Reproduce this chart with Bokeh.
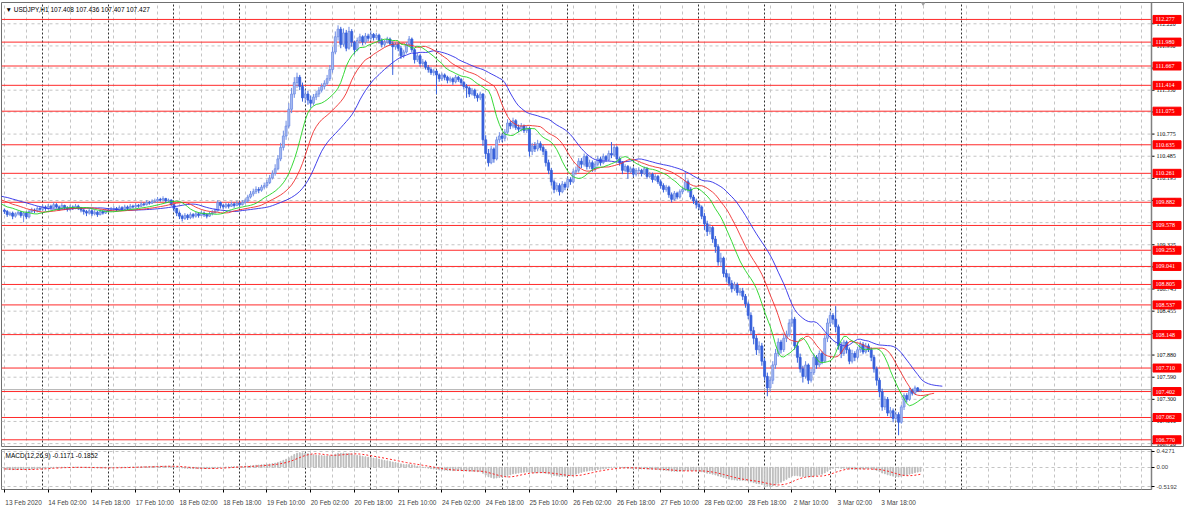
import numpy as np
from bokeh.plotting import figure
from bokeh.models import Range1d, FixedTicker, Grid, Span, Label
from bokeh.layouts import column
from bokeh.embed import file_html
from bokeh.resources import INLINE

symbol_title = "\u25bc USDJPY,H1  107.408 107.436 107.407 107.427"
macd_title = "MACD(12,26,9) -0.1171 -0.1852"

# bars before the first visible one (13 Feb 10:00), estimated from indicator levels at the left edge
pre_closes = [109.98, 110.01, 109.99, 110.02, 110.00, 109.97, 109.99, 110.03, 110.01, 109.98,
              110.00, 110.02, 109.99, 109.97, 110.00, 110.01, 109.98, 109.96, 109.99, 110.00,
              109.97, 109.95, 109.98, 110.00, 109.96, 109.94, 109.97, 109.95, 109.92, 109.90,
              109.93, 109.88, 109.85, 109.86, 109.82, 109.79, 109.81, 109.77, 109.75, 109.78]

# H1 bars from 13 Feb 2020 10:00 to 4 Mar 2020 09:00
closes = [
    109.76, 109.72, 109.74, 109.70, 109.73, 109.75, 109.71, 109.74,
    109.69, 109.76, 109.78, 109.77, 109.80, 109.79, 109.82, 109.80,
    109.83, 109.81, 109.85, 109.82, 109.80, 109.84, 109.81, 109.79,
    109.82, 109.80, 109.83, 109.81, 109.78, 109.76, 109.74, 109.77,
    109.73, 109.75, 109.72, 109.76, 109.74, 109.78, 109.77, 109.79,
    109.80, 109.78, 109.81, 109.79, 109.82, 109.80, 109.83, 109.82,
    109.84, 109.83, 109.86, 109.85, 109.88, 109.87, 109.89, 109.90,
    109.92, 109.91, 109.93, 109.90, 109.91, 109.85, 109.80, 109.74,
    109.70, 109.67, 109.71, 109.68, 109.72, 109.70, 109.73, 109.71,
    109.74, 109.72, 109.70, 109.73, 109.75, 109.77, 109.88, 109.84,
    109.82, 109.85, 109.83, 109.86, 109.84, 109.87, 109.85, 109.88,
    109.90, 109.95, 109.99, 110.02, 110.05, 110.04, 110.08, 110.10,
    110.14, 110.20, 110.26, 110.32, 110.45, 110.60, 110.75, 110.88,
    111.10, 111.30, 111.45, 111.52, 111.40, 111.25, 111.30, 111.22,
    111.18, 111.26, 111.30, 111.35, 111.40, 111.44, 111.50, 111.62,
    111.85, 112.05, 112.15, 111.95, 112.10, 111.90, 112.12, 111.98,
    111.88, 112.00, 112.05, 111.98, 112.06, 112.03, 112.08, 112.04,
    112.07, 112.00, 111.95, 111.98, 112.02, 111.96, 111.92, 111.95,
    111.90, 111.80, 111.85, 111.95, 112.02, 111.88, 111.75, 111.80,
    111.70, 111.72, 111.65, 111.62, 111.58, 111.60, 111.55, 111.50,
    111.55, 111.52, 111.48, 111.50, 111.46, 111.52, 111.49, 111.45,
    111.40, 111.38, 111.30, 111.35, 111.28, 111.25, 111.30, 110.70,
    110.52, 110.40, 110.58, 110.45, 110.70, 110.75, 110.72, 110.80,
    110.92, 110.88, 110.95, 110.86, 110.84, 110.88, 110.82, 110.85,
    110.55, 110.62, 110.58, 110.65, 110.60, 110.55, 110.40, 110.30,
    110.15, 110.05, 110.10, 110.02, 110.12, 110.08, 110.18, 110.15,
    110.28, 110.30, 110.42, 110.38, 110.48, 110.35, 110.40, 110.32,
    110.38, 110.45, 110.40, 110.48, 110.44, 110.52, 110.50, 110.60,
    110.45, 110.40, 110.30, 110.35, 110.28, 110.32, 110.25, 110.30,
    110.30, 110.26, 110.32, 110.22, 110.25, 110.18, 110.22, 110.15,
    110.10, 110.05, 110.08, 109.98, 109.92, 110.00, 109.95, 110.02,
    110.05, 110.15, 110.05, 109.95, 109.90, 109.85, 109.82, 109.70,
    109.60, 109.50, 109.55, 109.40, 109.30, 109.10, 109.15, 108.95,
    108.90, 108.82, 108.75, 108.80, 108.70, 108.72, 108.65, 108.55,
    108.40, 108.20, 108.10, 107.95, 108.00, 107.80, 107.60, 107.45,
    107.55, 107.75, 107.90, 108.05, 107.95, 108.10, 108.15, 108.30,
    108.35, 108.00, 107.85, 107.70, 107.60, 107.75, 107.55, 107.65,
    107.85, 107.75, 107.90, 107.80, 108.10, 108.30, 108.40, 108.35,
    108.25, 108.00, 107.90, 108.05, 107.95, 107.80, 107.90, 107.85,
    107.95, 108.02, 107.92, 108.00, 107.95, 107.85, 107.70, 107.55,
    107.40, 107.20, 107.30, 107.12, 107.15, 107.05, 107.10, 107.00,
    107.20, 107.35, 107.30, 107.42, 107.38, 107.45, 107.408, 107.427,
]
highs = [
    109.80, 109.78, 109.76, 109.76, 109.75, 109.77, 109.77, 109.76,
    109.76, 109.78, 109.81, 109.80, 109.83, 109.82, 109.85, 109.84,
    109.86, 109.85, 109.88, 109.87, 109.84, 109.87, 109.85, 109.83,
    109.85, 109.84, 109.86, 109.85, 109.82, 109.80, 109.78, 109.80,
    109.79, 109.78, 109.77, 109.79, 109.78, 109.80, 109.80, 109.82,
    109.83, 109.82, 109.84, 109.83, 109.85, 109.84, 109.86, 109.85,
    109.87, 109.86, 109.89, 109.88, 109.91, 109.90, 109.92, 109.93,
    109.95, 109.94, 109.96, 109.94, 109.93, 109.92, 109.87, 109.81,
    109.76, 109.72, 109.74, 109.73, 109.75, 109.74, 109.76, 109.75,
    109.77, 109.76, 109.74, 109.76, 109.78, 109.80, 109.91, 109.89,
    109.86, 109.88, 109.87, 109.89, 109.88, 109.90, 109.89, 109.91,
    109.93, 109.98, 110.03, 110.06, 110.09, 110.08, 110.11, 110.14,
    110.18, 110.24, 110.30, 110.38, 110.50, 110.66, 110.82, 110.95,
    111.18, 111.38, 111.52, 111.58, 111.55, 111.45, 111.36, 111.34,
    111.28, 111.30, 111.34, 111.39, 111.44, 111.48, 111.55, 111.68,
    111.92, 112.12, 112.20, 112.18, 112.16, 112.14, 112.18, 112.15,
    112.00, 112.04, 112.09, 112.07, 112.10, 112.09, 112.13, 112.10,
    112.10, 112.09, 112.03, 112.01, 112.05, 112.04, 111.99, 111.98,
    111.98, 111.93, 111.88, 111.98, 112.06, 112.04, 111.90, 111.84,
    111.82, 111.76, 111.74, 111.68, 111.65, 111.63, 111.62, 111.57,
    111.58, 111.57, 111.54, 111.53, 111.52, 111.55, 111.54, 111.51,
    111.47, 111.43, 111.40, 111.38, 111.37, 111.31, 111.33, 111.31,
    110.76, 110.58, 110.62, 110.60, 110.74, 110.80, 110.78, 110.84,
    110.97, 110.95, 110.99, 110.97, 110.90, 110.92, 110.90, 110.88,
    110.87, 110.66, 110.67, 110.70, 110.68, 110.63, 110.58, 110.44,
    110.33, 110.18, 110.14, 110.13, 110.16, 110.15, 110.22, 110.21,
    110.32, 110.35, 110.46, 110.46, 110.52, 110.50, 110.44, 110.43,
    110.42, 110.49, 110.48, 110.52, 110.50, 110.56, 110.67, 110.64,
    110.62, 110.48, 110.42, 110.38, 110.37, 110.35, 110.34, 110.33,
    110.34, 110.32, 110.35, 110.34, 110.28, 110.27, 110.25, 110.24,
    110.18, 110.13, 110.11, 110.10, 110.01, 110.03, 110.02, 110.05,
    110.08, 110.29, 110.18, 110.08, 109.98, 109.93, 109.88, 109.84,
    109.74, 109.64, 109.60, 109.57, 109.44, 109.33, 109.22, 109.17,
    109.00, 108.95, 108.86, 108.84, 108.83, 108.76, 108.76, 108.68,
    108.58, 108.44, 108.25, 108.14, 108.06, 108.04, 107.84, 107.65,
    107.60, 107.80, 107.96, 108.10, 108.08, 108.15, 108.20, 108.35,
    108.48, 108.38, 108.05, 107.90, 107.74, 107.80, 107.77, 107.70,
    107.90, 107.88, 107.94, 107.93, 108.14, 108.36, 108.45, 108.43,
    108.52, 108.28, 108.05, 108.08, 108.07, 107.98, 107.95, 107.93,
    107.99, 108.06, 108.05, 108.04, 108.03, 107.98, 107.88, 107.73,
    107.58, 107.44, 107.34, 107.33, 107.20, 107.18, 107.14, 107.13,
    107.23, 107.38, 107.38, 107.45, 107.44, 107.48, 107.46, 107.436,
]
lows = [
    109.73, 109.69, 109.70, 109.66, 109.68, 109.71, 109.68, 109.62,
    109.66, 109.67, 109.74, 109.74, 109.75, 109.76, 109.77, 109.77,
    109.78, 109.79, 109.80, 109.80, 109.77, 109.79, 109.78, 109.76,
    109.77, 109.78, 109.79, 109.78, 109.75, 109.72, 109.70, 109.72,
    109.70, 109.71, 109.69, 109.71, 109.72, 109.73, 109.75, 109.76,
    109.77, 109.76, 109.77, 109.77, 109.78, 109.78, 109.79, 109.80,
    109.80, 109.81, 109.82, 109.83, 109.84, 109.85, 109.86, 109.87,
    109.88, 109.89, 109.89, 109.87, 109.88, 109.83, 109.76, 109.70,
    109.66, 109.63, 109.65, 109.65, 109.66, 109.67, 109.68, 109.68,
    109.70, 109.69, 109.67, 109.69, 109.71, 109.73, 109.76, 109.80,
    109.79, 109.80, 109.80, 109.82, 109.81, 109.83, 109.82, 109.84,
    109.86, 109.88, 109.93, 109.96, 109.99, 110.00, 110.02, 110.05,
    110.07, 110.12, 110.18, 110.23, 110.30, 110.42, 110.56, 110.70,
    110.85, 111.05, 111.25, 111.38, 111.35, 111.20, 111.18, 111.16,
    111.12, 111.15, 111.22, 111.26, 111.32, 111.36, 111.41, 111.47,
    111.58, 111.82, 112.00, 111.90, 111.92, 111.86, 111.88, 111.92,
    111.82, 111.86, 111.96, 111.94, 111.95, 111.99, 112.00, 112.00,
    112.01, 111.96, 111.91, 111.92, 111.96, 111.93, 111.55, 111.88,
    111.86, 111.76, 111.77, 111.83, 111.92, 111.85, 111.70, 111.72,
    111.66, 111.66, 111.62, 111.58, 111.55, 111.54, 111.30, 111.46,
    111.47, 111.48, 111.44, 111.45, 111.42, 111.44, 111.46, 111.41,
    111.36, 111.25, 111.26, 111.28, 111.24, 111.20, 111.22, 110.62,
    110.45, 110.35, 110.38, 110.40, 110.43, 110.66, 110.67, 110.68,
    110.78, 110.84, 110.85, 110.83, 110.80, 110.81, 110.79, 110.79,
    110.48, 110.50, 110.54, 110.55, 110.56, 110.50, 110.35, 110.25,
    110.10, 110.00, 110.02, 109.97, 110.00, 110.04, 110.06, 110.11,
    110.13, 110.24, 110.27, 110.33, 110.35, 110.31, 110.32, 110.28,
    110.28, 110.35, 110.36, 110.38, 110.41, 110.42, 110.46, 110.48,
    110.42, 110.36, 110.25, 110.28, 110.19, 110.26, 110.21, 110.22,
    110.25, 110.22, 110.24, 110.19, 110.20, 110.14, 110.16, 110.12,
    110.06, 110.01, 110.02, 109.94, 109.88, 109.90, 109.92, 109.93,
    109.99, 110.03, 110.01, 109.92, 109.86, 109.80, 109.78, 109.66,
    109.52, 109.44, 109.46, 109.35, 109.22, 109.05, 109.04, 108.90,
    108.84, 108.78, 108.70, 108.72, 108.66, 108.66, 108.60, 108.50,
    108.35, 108.15, 108.02, 107.88, 107.90, 107.74, 107.55, 107.34,
    107.40, 107.50, 107.70, 107.86, 107.90, 107.92, 108.05, 108.12,
    108.25, 107.95, 107.78, 107.65, 107.52, 107.57, 107.50, 107.52,
    107.62, 107.70, 107.72, 107.76, 107.78, 108.05, 108.25, 108.28,
    108.18, 107.95, 107.84, 107.87, 107.90, 107.76, 107.77, 107.80,
    107.82, 107.91, 107.89, 107.90, 107.92, 107.80, 107.65, 107.48,
    107.33, 107.15, 107.16, 107.08, 107.06, 107.00, 107.02, 106.83,
    106.98, 107.16, 107.26, 107.28, 107.35, 107.36, 107.40, 107.407,
]

levels = [112.277, 111.980, 111.667, 111.414, 111.075, 110.635, 110.261, 109.882, 109.578,
          109.253, 109.041, 108.805, 108.537, 108.148, 107.710, 107.402, 107.062, 106.770]
price_ticks = [106.720, 107.010, 107.300, 107.590, 107.880, 108.165, 108.455, 108.745, 109.035,
               109.325, 109.615, 109.905, 110.195, 110.485, 110.775, 111.065, 111.350, 111.640,
               111.930, 112.220]
time_labels = ["13 Feb 2020", "14 Feb 02:00", "14 Feb 18:00", "17 Feb 10:00", "18 Feb 02:00",
               "18 Feb 18:00", "19 Feb 10:00", "20 Feb 02:00", "20 Feb 18:00", "21 Feb 10:00",
               "24 Feb 02:00", "24 Feb 18:00", "25 Feb 10:00", "26 Feb 02:00", "26 Feb 18:00",
               "27 Feb 10:00", "28 Feb 02:00", "28 Feb 18:00", "2 Mar 10:00", "3 Mar 02:00",
               "3 Mar 18:00"]
day_start_bars = [14, 38, 62, 86, 110, 134, 158, 182, 206, 230, 254, 278, 302, 326, 350]
macd_ticks = [0.4271, 0, -0.5192]
macd_tick_labels = ["0.4271", "0.00", "-0.5192"]

FONT = "Liberation Sans"
N = len(closes)
P = len(pre_closes)
idx = np.arange(N)
all_idx = np.arange(-P, N)
c = np.array(closes)
o = np.array([pre_closes[-1]] + closes[:-1])
h = np.maximum(np.array(highs), np.maximum(o, c))
l = np.minimum(np.array(lows), np.minimum(o, c))

# indicators (Alligator on median price, MACD on close)
median_all = np.concatenate([np.array(pre_closes), (h + l) / 2.0])
close_all = np.concatenate([np.array(pre_closes), c])


def smma(x, n):
    out = np.full(len(x), np.nan)
    out[n - 1] = x[:n].mean()
    for k in range(n, len(x)):
        out[k] = (out[k - 1] * (n - 1) + x[k]) / n
    return out


def ema(x, n):
    a = 2.0 / (n + 1)
    out = np.empty(len(x))
    out[0] = x[0]
    for k in range(1, len(x)):
        out[k] = a * x[k] + (1 - a) * out[k - 1]
    return out


jaw = smma(median_all, 13)
teeth = smma(median_all, 8)
lips = smma(median_all, 5)
macd = ema(close_all, 12) - ema(close_all, 26)
signal = np.full(len(macd), np.nan)
for k in range(8, len(macd)):
    signal[k] = macd[k - 8:k + 1].mean()

# ---- layout geometry ----
FW = 1150          # chart area width (px)
AXW = 33           # price-scale width (px)
X0, XB = -1.08, 419.5
K = FW / (XB - X0)  # px per bar
XFULL = XB + AXW / K
grid_bars = list(range(0, 420, 8))
label_bars = list(range(0, 16 * len(time_labels), 16))
Y0, Y1 = 106.682, 112.499

p1 = figure(frame_width=FW + AXW, frame_height=444, x_range=Range1d(X0, XFULL),
            y_range=Range1d(Y0, Y1), output_backend="svg", toolbar_location=None,
            x_axis_location=None, y_axis_location=None, min_border_left=1, min_border_right=0,
            min_border_top=2, min_border_bottom=2, outline_line_color="#707070",
            background_fill_color="white", border_fill_color="white")
p1.grid.visible = False
p1.add_layout(Grid(dimension=0, ticker=FixedTicker(ticks=grid_bars), grid_line_color="#c4c4c4",
                   grid_line_dash="3 3", grid_line_width=1))
p1.add_layout(Grid(dimension=0, ticker=FixedTicker(ticks=day_start_bars), grid_line_color="#303030",
                   grid_line_dash="2 2", grid_line_width=1))
# horizontal price grid, stopping at the price scale
p1.segment(x0=[X0] * len(price_ticks), x1=[XB] * len(price_ticks), y0=price_ticks, y1=price_ticks,
           line_color="#c4c4c4", line_dash="3 3", line_width=1)

# horizontal levels
p1.segment(x0=[X0] * len(levels), x1=[XB] * len(levels), y0=levels, y1=levels,
           line_color="#ff2a2a", line_width=1)
p1.segment(x0=[X0], x1=[XB], y0=[closes[-1]], y1=[closes[-1]], line_color="#b0b0b0", line_width=1)

# candles
bull = c >= o
wick_col = np.where(bull, "#6f8de4", "#3660db")
body_fill = np.where(bull, "#a9bcf1", "#3660db")
body_line = np.where(bull, "#6f8de4", "#3660db")
p1.segment(x0=idx, y0=l, x1=idx, y1=h, line_color=list(wick_col), line_width=1)
p1.vbar(x=idx, width=0.72, top=np.maximum(o, c), bottom=np.minimum(o, c),
        fill_color=list(body_fill), line_color=list(body_line), line_width=0.8)

# alligator
p1.line(all_idx + 8, jaw, line_color="#2f2fe8", line_width=1, line_alpha=0.9)
p1.line(all_idx + 5, teeth, line_color="#f03030", line_width=1, line_alpha=0.9)
p1.line(all_idx + 3, lips, line_color="#22d422", line_width=1, line_alpha=0.9)

# price scale
p1.add_layout(Span(location=XB, dimension="height", line_color="#808080", line_width=1.5))
p1.segment(x0=[XB] * len(price_ticks), x1=[XB + 3 / K] * len(price_ticks), y0=price_ticks,
           y1=price_ticks, line_color="black", line_width=1)
p1.text(x=[XB + 5 / K] * len(price_ticks), y=price_ticks, text=[f"{t:.3f}" for t in price_ticks],
        text_font=FONT, text_font_size="6px", text_color="black", text_baseline="middle",
        text_align="left")
p1.rect(x=[XB + 15.5 / K] * len(levels), y=levels, width=28, height=8, width_units="screen",
        height_units="screen", fill_color="#ff0000", line_color="#ff0000")
p1.text(x=[XB + 4 / K] * len(levels), y=levels, text=[f"{lv:.3f}" for lv in levels],
        text_font=FONT, text_font_size="6px", text_color="white", text_baseline="middle",
        text_align="left")

p1.add_layout(Label(x=X0, y=Y1, x_offset=4, y_offset=-7, text=symbol_title,
                    text_font=FONT, text_font_size="6.5px", text_color="black",
                    text_baseline="middle", text_align="left"))
p1.scatter(x=[N], y=[Y1], marker="inverted_triangle", size=5, color="#a0a0a0")

# MACD panel
p2 = figure(frame_width=FW, frame_height=40, x_range=Range1d(X0, XB), y_range=Range1d(-0.598, 0.48),
            output_backend="svg", toolbar_location=None, y_axis_location="right",
            x_axis_location="below", min_border_left=1, min_border_right=AXW,
            min_border_top=1, min_border_bottom=0, outline_line_color="#707070",
            background_fill_color="white", border_fill_color="white")
p2.grid.visible = False
p2.add_layout(Grid(dimension=0, ticker=FixedTicker(ticks=grid_bars), grid_line_color="#c4c4c4",
                   grid_line_dash="3 3"))
p2.add_layout(Grid(dimension=1, ticker=FixedTicker(ticks=macd_ticks), grid_line_color="#c4c4c4",
                   grid_line_dash="3 3"))
p2.add_layout(Grid(dimension=0, ticker=FixedTicker(ticks=day_start_bars), grid_line_color="#303030",
                   grid_line_dash="2 2"))

vis = all_idx >= 0
p2.vbar(x=all_idx[vis], top=macd[vis], bottom=0, width=0.3, color="#bdbdbd")
p2.line(all_idx[vis], signal[vis], line_color="#ff2020", line_width=1, line_dash="2 2")

ay = p2.yaxis[0]
ay.ticker = FixedTicker(ticks=macd_ticks)
ay.major_label_overrides = {t: s for t, s in zip(macd_ticks, macd_tick_labels)}
ay.major_label_text_font = FONT
ay.major_label_text_font_size = "6px"
ay.major_label_standoff = 2
ay.major_tick_out = 3
ay.major_tick_in = 0
ay.minor_tick_line_color = None
ay.axis_line_color = "#808080"
ay.axis_line_width = 1.5

axx = p2.xaxis[0]
axx.ticker = FixedTicker(ticks=[b + 7 for b in label_bars], minor_ticks=label_bars)
axx.major_label_overrides = {b + 7: s for b, s in zip(label_bars, time_labels)}
axx.major_tick_line_color = None
axx.minor_tick_out = 3
axx.minor_tick_in = 0
axx.minor_tick_line_color = "black"
axx.axis_line_color = None
axx.major_label_text_font = FONT
axx.major_label_text_font_size = "6.5px"
axx.major_label_standoff = 3

p2.add_layout(Label(x=X0, y=0.48, x_offset=4, y_offset=-6, text=macd_title,
                    text_font=FONT, text_font_size="6.5px", text_color="black",
                    text_baseline="middle", text_align="left"))

layout = column(p1, p2, spacing=0)
open("out.html", "w").write(file_html(layout, INLINE))
